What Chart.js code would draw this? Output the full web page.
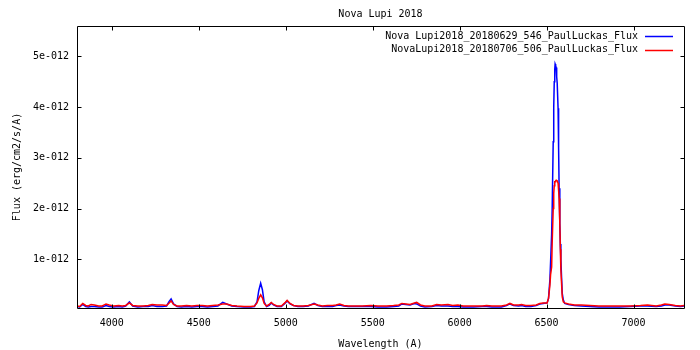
<!DOCTYPE html>
<html>
<head>
  <title>Nova Lupi 2018</title>
  <script src="https://cdn.jsdelivr.net/npm/chart.js"></script>
  <style>
    body { margin: 0; background: #fff; }
  </style>
</head>
<body>
  <canvas id="spectrum" width="700" height="350"></canvas>

  <script>
    // wavelengths in Angstrom, fluxes in units of 1e-12 erg/cm2/s/A
    const wavelength = [
      3800, 3815, 3833, 3850, 3865, 3881, 3900, 3925, 3945, 3967, 3985, 4010, 4040, 4060, 4080,
      4101, 4120, 4150, 4180, 4210, 4232, 4260, 4290, 4315, 4330, 4341, 4355, 4375, 4400, 4430,
      4460, 4490, 4520, 4550, 4580, 4610, 4638, 4660, 4690, 4720, 4760, 4800, 4820, 4835, 4845,
      4856, 4866, 4876, 4890, 4905, 4917, 4930, 4950, 4975, 4995, 5008, 5025, 5045, 5070, 5100,
      5130, 5163, 5185, 5210, 5240, 5270, 5290, 5310, 5335, 5360, 5400, 5440, 5490, 5530, 5580,
      5620, 5650, 5668, 5690, 5715, 5740, 5753, 5775, 5800, 5840, 5868, 5895, 5933, 5960, 5990,
      6020, 6080, 6130, 6155, 6185, 6240, 6270, 6289, 6310, 6340, 6356, 6380, 6410, 6440, 6461,
      6480, 6503, 6511, 6519, 6523, 6529, 6532, 6538, 6541, 6544, 6547, 6549, 6552, 6555, 6558,
      6561, 6566, 6569, 6572, 6576, 6579, 6582, 6586, 6590, 6596, 6604, 6626, 6660, 6700, 6750,
      6800, 6860, 6920, 6980, 7040, 7080, 7130, 7160, 7180, 7205, 7240, 7270, 7290
    ];
    const flux0629 = [
      0.07, 0.06, 0.11, 0.07, 0.06, 0.07, 0.07, 0.06, 0.06, 0.09, 0.07, 0.06, 0.07, 0.06, 0.08,
      0.16, 0.08, 0.06, 0.07, 0.07, 0.09, 0.07, 0.07, 0.08, 0.17, 0.22, 0.12, 0.07, 0.06, 0.07,
      0.06, 0.07, 0.07, 0.06, 0.07, 0.08, 0.15, 0.12, 0.08, 0.07, 0.06, 0.06, 0.07, 0.16, 0.38,
      0.53, 0.40, 0.16, 0.07, 0.09, 0.14, 0.10, 0.07, 0.07, 0.13, 0.18, 0.12, 0.09, 0.07, 0.07,
      0.08, 0.13, 0.09, 0.07, 0.07, 0.07, 0.09, 0.10, 0.08, 0.07, 0.07, 0.07, 0.07, 0.06, 0.06,
      0.07, 0.08, 0.12, 0.11, 0.10, 0.13, 0.12, 0.08, 0.06, 0.07, 0.09, 0.08, 0.08, 0.07, 0.07,
      0.06, 0.06, 0.07, 0.07, 0.06, 0.06, 0.09, 0.12, 0.09, 0.08, 0.09, 0.07, 0.07, 0.09, 0.12,
      0.13, 0.14, 0.23, 0.60, 0.95, 1.50, 1.97, 3.32, 4.00, 4.50, 4.75, 4.85, 4.82, 4.78, 4.60,
      4.47, 3.98, 3.20, 2.40, 1.70, 1.30, 1.00, 0.65, 0.33, 0.20, 0.13, 0.11, 0.09, 0.08, 0.07,
      0.06, 0.06, 0.06, 0.07, 0.08, 0.08, 0.07, 0.08, 0.10, 0.10, 0.08, 0.07, 0.08
    ];
    const flux0706 = [
      0.08, 0.07, 0.13, 0.09, 0.08, 0.11, 0.10, 0.08, 0.08, 0.12, 0.10, 0.08, 0.09, 0.08, 0.09,
      0.14, 0.09, 0.08, 0.08, 0.09, 0.11, 0.10, 0.10, 0.09, 0.14, 0.18, 0.11, 0.08, 0.08, 0.09,
      0.08, 0.09, 0.09, 0.08, 0.09, 0.10, 0.12, 0.12, 0.09, 0.08, 0.07, 0.07, 0.08, 0.14, 0.23,
      0.30, 0.24, 0.13, 0.08, 0.11, 0.15, 0.11, 0.08, 0.08, 0.14, 0.19, 0.13, 0.09, 0.08, 0.08,
      0.09, 0.12, 0.10, 0.08, 0.09, 0.09, 0.10, 0.12, 0.09, 0.08, 0.08, 0.08, 0.09, 0.08, 0.08,
      0.09, 0.10, 0.13, 0.12, 0.11, 0.14, 0.15, 0.10, 0.08, 0.08, 0.11, 0.10, 0.11, 0.09, 0.10,
      0.08, 0.08, 0.08, 0.09, 0.08, 0.08, 0.10, 0.13, 0.10, 0.10, 0.11, 0.09, 0.09, 0.10, 0.13,
      0.14, 0.14, 0.23, 0.49, 0.70, 0.85, 1.31, 2.00, 2.30, 2.45, 2.53, 2.53, 2.55, 2.56, 2.56,
      2.55, 2.50, 2.36, 2.20, 1.71, 1.20, 0.80, 0.53, 0.26, 0.16, 0.14, 0.12, 0.10, 0.10, 0.09,
      0.08, 0.08, 0.08, 0.08, 0.09, 0.10, 0.08, 0.10, 0.12, 0.11, 0.09, 0.08, 0.09
    ];
    const seriesNames = [
      'Nova Lupi2018_20180629_546_PaulLuckas_Flux',
      'NovaLupi2018_20180706_506_PaulLuckas_Flux'
    ];
    const xTicks = [4000, 4500, 5000, 5500, 6000, 6500, 7000];
    const yTicks = [1, 2, 3, 4, 5];
    const FLUX_UNIT = 1e-12;

    const FONT = { family: 'DejaVu Sans Mono', size: 10 };

    function points(ys) {
      return wavelength.map((w, i) => ({ x: w, y: ys[i] * FLUX_UNIT }));
    }

    // gnuplot style frame with inward ticks on all four sides + key at top right
    const gnuplotFrame = {
      id: 'gnuplotFrame',
      afterDatasetsDraw(chart) {
        const ctx = chart.ctx;
        const a = chart.chartArea;
        const xs = chart.scales.x, ys = chart.scales.y;
        const L = Math.round(a.left) + 0.5, R = Math.round(a.right) + 0.5;
        const T = Math.round(a.top) + 0.5, B = Math.round(a.bottom) + 0.5;
        ctx.save();
        ctx.strokeStyle = '#000';
        ctx.lineWidth = 1;
        ctx.beginPath();
        ctx.rect(L, T, R - L, B - T);
        xTicks.forEach(v => {
          const px = Math.round(xs.getPixelForValue(v)) + 0.5;
          ctx.moveTo(px, B); ctx.lineTo(px, B - 4);
          ctx.moveTo(px, T); ctx.lineTo(px, T + 4);
        });
        yTicks.forEach(v => {
          const py = Math.round(ys.getPixelForValue(v * FLUX_UNIT)) + 0.5;
          ctx.moveTo(L, py); ctx.lineTo(L + 4, py);
          ctx.moveTo(R, py); ctx.lineTo(R - 4, py);
        });
        ctx.stroke();

        // key
        ctx.font = FONT.size + 'px ' + FONT.family;
        ctx.textAlign = 'right';
        ctx.textBaseline = 'middle';
        chart.data.datasets.forEach((ds, i) => {
          const y = a.top + 10 + i * 13.5;
          ctx.fillStyle = '#000';
          ctx.fillText(ds.label, a.right - 46, y);
          ctx.strokeStyle = ds.borderColor;
          ctx.lineWidth = 1.5;
          ctx.beginPath();
          ctx.moveTo(a.right - 39, Math.round(y) + 0.5);
          ctx.lineTo(a.right - 11, Math.round(y) + 0.5);
          ctx.stroke();
        });
        ctx.restore();
      }
    };

    Chart.defaults.font.family = FONT.family;
    Chart.defaults.font.size = FONT.size;
    Chart.defaults.color = '#000';

    new Chart(document.getElementById('spectrum'), {
      type: 'line',
      data: {
        datasets: [
          {
            label: seriesNames[0],
            data: points(flux0629),
            borderColor: '#0000ff',
            borderWidth: 1.5,
            pointRadius: 0,
            tension: 0,
            order: 1
          },
          {
            label: seriesNames[1],
            data: points(flux0706),
            borderColor: '#ff0000',
            borderWidth: 1.5,
            pointRadius: 0,
            tension: 0,
            order: 0
          }
        ]
      },
      options: {
        responsive: false,
        animation: false,
        layout: { padding: { left: 0, right: 16, top: 0, bottom: 0 } },
        plugins: {
          legend: { display: false },
          tooltip: { enabled: false },
          title: {
            display: true,
            text: 'Nova Lupi 2018',
            fullSize: false,
            font: { family: FONT.family, size: 10, weight: 'normal' },
            color: '#000',
            padding: { top: 8, bottom: 6 }
          }
        },
        scales: {
          x: {
            type: 'linear',
            min: 3800,
            max: 7290,
            grid: { display: false, drawTicks: false },
            border: { display: false },
            afterBuildTicks: s => { s.ticks = xTicks.map(v => ({ value: v })); },
            afterFit: s => { s.height = 42; },
            ticks: { padding: 9, maxRotation: 0, callback: v => String(v) },
            title: {
              display: true,
              text: 'Wavelength (A)',
              font: { family: FONT.family, size: 10 },
              padding: { top: 4, bottom: 0 }
            }
          },
          y: {
            type: 'linear',
            min: 0.04 * FLUX_UNIT,
            max: 5.6 * FLUX_UNIT,
            grid: { display: false, drawTicks: false },
            border: { display: false },
            afterBuildTicks: s => { s.ticks = yTicks.map(v => ({ value: v * FLUX_UNIT })); },
            afterFit: s => { s.width = 77; },
            ticks: { padding: 8, callback: v => Math.round(v / FLUX_UNIT) + 'e-012' },
            title: {
              display: true,
              text: 'Flux (erg/cm2/s/A)',
              font: { family: FONT.family, size: 10 },
              padding: { top: 11, bottom: 0 }
            }
          }
        }
      },
      plugins: [gnuplotFrame]
    });
  </script>
</body>
</html>
